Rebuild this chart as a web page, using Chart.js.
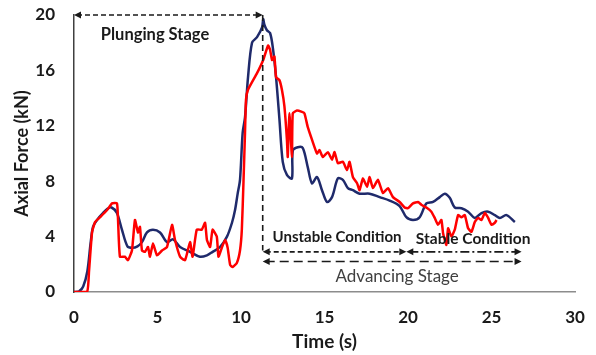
<!DOCTYPE html>
<html>
<head>
<meta charset="utf-8">
<script src="https://cdn.jsdelivr.net/npm/chart.js@4.4.1/dist/chart.umd.min.js"></script>
<style>
  html, body { margin: 0; padding: 0; background: #fff; }
  #wrap { position: relative; width: 596px; height: 355px; }
</style>
</head>
<body>
<div id="wrap"><canvas id="chart" width="596" height="355"></canvas></div>
<script>
// time (s) and axial force (kN)
const blueTime = [0, 0.3, 0.55, 0.8, 1.0, 1.14, 1.38, 1.74, 2.0, 2.25, 2.57, 2.87, 3.2, 3.5, 3.8, 4.07, 4.37, 4.73, 5.15, 5.57, 5.93, 6.35, 6.95, 7.54, 7.96, 8.3, 8.74, 9.16, 9.46, 9.64, 9.8, 9.94, 10.1, 10.24, 10.42, 10.66, 10.96, 11.26, 11.33, 11.4, 11.55, 11.74, 11.9, 12.1, 12.3, 12.5, 12.75, 13.05, 13.1, 13.4, 13.7, 14.0, 14.25, 14.55, 14.85, 15.15, 15.45, 15.8, 16.1, 16.4, 16.7, 17.1, 17.7, 18.3, 18.9, 19.5, 19.9, 20.3, 20.7, 21.1, 21.5, 21.9, 22.2, 22.5, 22.8, 23.2, 23.6, 24.0, 24.4, 24.8, 25.2, 25.5, 25.9, 26.4];
const blueForce = [0, 0.05, 0.4, 1.5, 3.6, 4.7, 5.2, 5.7, 6.0, 6.1, 5.7, 4.5, 3.3, 3.2, 3.3, 3.6, 4.3, 4.5, 4.3, 3.6, 3.8, 3.25, 2.9, 2.55, 2.65, 2.9, 3.25, 4.0, 5.0, 5.9, 7.1, 8.1, 11.5, 12.6, 15.5, 18.0, 18.4, 19.1, 19.7, 19.3, 18.9, 18.7, 17.7, 15.5, 12.5, 9.4, 8.45, 8.2, 10.2, 10.45, 10.4, 9.0, 7.85, 8.3, 7.35, 6.5, 6.85, 8.2, 8.1, 7.5, 7.35, 7.1, 7.1, 6.85, 6.6, 6.2, 5.4, 5.2, 5.4, 6.4, 6.5, 6.85, 7.1, 6.8, 6.1, 6.05, 5.8, 5.35, 5.7, 5.8, 5.55, 5.35, 5.55, 5.05];

const redTime = [0, 0.78, 0.9, 1.08, 1.26, 1.56, 1.97, 2.28, 2.57, 2.63, 2.75, 3.05, 3.23, 3.47, 3.65, 3.83, 3.95, 4.07, 4.25, 4.43, 4.55, 4.73, 4.97, 5.27, 5.57, 5.87, 6.05, 6.35, 6.65, 6.95, 7.1, 7.35, 7.65, 7.85, 7.96, 8.15, 8.3, 8.55, 8.65, 8.85, 9.05, 9.2, 9.35, 9.5, 9.75, 9.94, 10.05, 10.15, 10.24, 10.3, 10.42, 10.96, 11.33, 11.62, 11.74, 11.86, 12.0, 12.1, 12.3, 12.45, 12.6, 12.75, 12.8, 12.9, 13.05, 13.1, 13.35, 13.65, 13.8, 14.0, 14.25, 14.55, 14.7, 14.9, 15.2, 15.45, 15.6, 15.8, 16.1, 16.35, 16.5, 16.7, 16.95, 17.1, 17.3, 17.55, 17.7, 17.9, 18.2, 18.5, 18.8, 19.1, 19.5, 19.8, 20.0, 20.3, 20.6, 20.8, 21.1, 21.4, 21.6, 21.8, 22.0, 22.1, 22.3, 22.4, 22.6, 22.8, 23.0, 23.2, 23.4, 23.6, 23.8, 24.0, 24.2, 24.4, 24.6, 24.8, 25.0, 25.2, 25.3];
const redForce = [0, 0, 1.5, 4.3, 5.05, 5.4, 5.9, 6.4, 6.4, 5.4, 2.55, 2.55, 2.3, 3.0, 5.2, 4.3, 4.7, 3.0, 2.9, 3.25, 2.55, 3.5, 2.65, 3.0, 3.25, 4.85, 3.75, 2.55, 2.3, 3.6, 2.55, 4.5, 4.5, 5.0, 3.75, 3.25, 4.5, 4.0, 2.55, 3.2, 3.75, 3.2, 1.95, 1.8, 2.1, 3.0, 4.5, 8.0, 11.5, 13.9, 14.6, 15.8, 16.75, 17.8, 17.5, 16.75, 17.0, 15.5, 15.3, 14.6, 13.4, 11.0, 9.75, 12.9, 9.75, 12.9, 13.1, 13.0, 12.9, 11.9, 11.0, 10.0, 10.25, 9.75, 10.1, 9.55, 10.1, 9.3, 9.4, 8.8, 9.4, 8.3, 7.85, 7.35, 8.2, 7.6, 8.3, 7.5, 8.1, 7.15, 7.5, 6.85, 6.5, 6.1, 6.05, 6.4, 6.5, 6.3, 6.1, 5.8, 5.35, 4.85, 5.2, 4.25, 3.4, 4.6, 4.0, 4.5, 5.55, 5.4, 5.55, 4.6, 4.35, 5.05, 5.35, 5.2, 5.7, 5.35, 4.85, 5.0, 5.2];

const xTicks = [0, 5, 10, 15, 20, 25, 30];
const yTicks = [0, 4, 8, 12, 16, 20];

const toPoints = (xs, ys) => xs.map((x, i) => ({ x: x, y: ys[i] }));

// stage markers, in axis units
const peakTime = 11.3;
const stageArrows = [
  { from: 0, to: peakTime, y: 20, dash: [5, 3] },
  { from: peakTime, to: 19.9, y: 2.9, dash: [5, 3] },
  { from: 19.9, to: 26.8, y: 2.9, dash: [9, 3, 2, 3] },
  { from: peakTime, to: 26.8, y: 2.2, dash: [9, 5] }
];
const stageLabels = [
  { text: "Plunging Stage", x: 4.85, y: 18.6, bold: true, size: 16.5 },
  { text: "Unstable Condition", x: 15.75, y: 3.95, bold: true, size: 15 },
  { text: "Stable Condition", x: 23.9, y: 3.8, bold: true, size: 15.5 },
  { text: "Advancing Stage", x: 19.35, y: 1.15, bold: false, size: 17 }
];

function arrowHead(ctx, x, y, dir) {
  ctx.beginPath();
  ctx.moveTo(x, y);
  ctx.lineTo(x - dir * 7, y - 3.5);
  ctx.lineTo(x - dir * 7, y + 3.5);
  ctx.closePath();
  ctx.fill();
}

const stagePlugin = {
  id: "stages",
  afterDatasetsDraw(chart) {
    const ctx = chart.ctx;
    const xs = chart.scales.x, ys = chart.scales.y;
    ctx.save();
    ctx.strokeStyle = "#1a1a1a";
    ctx.fillStyle = "#1a1a1a";
    ctx.lineWidth = 1.6;

    // vertical divider at the force peak
    ctx.setLineDash([6, 4]);
    ctx.beginPath();
    ctx.moveTo(xs.getPixelForValue(peakTime), ys.getPixelForValue(20));
    ctx.lineTo(xs.getPixelForValue(peakTime), ys.getPixelForValue(3.0));
    ctx.stroke();

    stageArrows.forEach(a => {
      const x1 = xs.getPixelForValue(a.from), x2 = xs.getPixelForValue(a.to);
      const y = ys.getPixelForValue(a.y);
      ctx.setLineDash(a.dash);
      ctx.beginPath();
      ctx.moveTo(x1 + 3, y);
      ctx.lineTo(x2 - 3, y);
      ctx.stroke();
      ctx.setLineDash([]);
      arrowHead(ctx, x1, y, -1);
      arrowHead(ctx, x2, y, 1);
    });

    ctx.textAlign = "center";
    ctx.textBaseline = "middle";
    stageLabels.forEach(l => {
      ctx.font = (l.bold ? "bold " : "") + l.size + "px Lato, 'Open Sans', sans-serif";
      ctx.fillStyle = l.bold ? "#1a1a1a" : "#404040";
      ctx.fillText(l.text, xs.getPixelForValue(l.x), ys.getPixelForValue(l.y));
    });
    ctx.restore();
  }
};

const tickFont = { family: "Lato, 'Open Sans', sans-serif", size: 17, weight: "bold" };

new Chart(document.getElementById("chart").getContext("2d"), {
  type: "line",
  data: {
    datasets: [
      {
        label: "Red",
        data: toPoints(redTime, redForce),
        borderColor: "#ff0000",
        borderWidth: 2.5,
        pointRadius: 0,
        tension: 0.15,
        fill: false
      },
      {
        label: "Blue",
        data: toPoints(blueTime, blueForce),
        borderColor: "#1f2a6b",
        borderWidth: 2.5,
        pointRadius: 0,
        tension: 0.3,
        fill: false
      }
    ]
  },
  options: {
    responsive: false,
    animation: false,
    layout: { padding: 0 },
    plugins: { legend: { display: false }, tooltip: { enabled: false } },
    scales: {
      x: {
        type: "linear",
        min: 0,
        max: 30,
        afterBuildTicks: s => { s.ticks = xTicks.map(v => ({ value: v })); },
        afterFit: s => {
          s.height = 63;
          s.paddingLeft = 0;
          s.paddingRight = 21;
        },
        grid: { display: false, drawTicks: false },
        border: { display: true, color: "#8c8c8c", width: 1.5 },
        ticks: { color: "#1a1a1a", font: tickFont, padding: 15, maxRotation: 0 },
        title: {
          display: true,
          text: "Time (s)",
          color: "#1a1a1a",
          font: { family: "Lato, 'Open Sans', sans-serif", size: 19, weight: "bold" },
          padding: { top: 0, bottom: 2 }
        }
      },
      y: {
        min: 0,
        max: 20,
        afterBuildTicks: s => { s.ticks = yTicks.map(v => ({ value: v })); },
        afterFit: s => {
          s.width = 74;
          s.paddingTop = 15;
          s.paddingBottom = 0;
        },
        grid: { display: false, drawTicks: false },
        border: { display: true, color: "#404040", width: 1.5 },
        ticks: { color: "#1a1a1a", font: tickFont, padding: 19 },
        title: {
          display: true,
          text: "Axial Force (kN)",
          color: "#1a1a1a",
          font: { family: "Lato, 'Open Sans', sans-serif", size: 18, weight: "bold" },
          padding: { top: 11, bottom: 0 }
        }
      }
    }
  },
  plugins: [stagePlugin]
});
</script>
</body>
</html>
